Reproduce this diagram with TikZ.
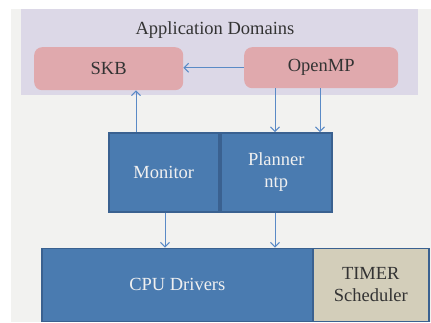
\documentclass[tikz,border=0pt]{standalone}
\usepackage{fontspec}
\setmainfont{Liberation Serif}
\usetikzlibrary{arrows.meta,calc}
\definecolor{bggray}{HTML}{F2F2F0}
\definecolor{appbg}{HTML}{DCD8E7}
\definecolor{pinkbox}{HTML}{E0A9AD}
\definecolor{bluebox}{HTML}{4A7BB0}
\definecolor{blueedge}{HTML}{3A6190}
\definecolor{tanbox}{HTML}{D3CEBA}
\definecolor{arrowc}{HTML}{5A8AC6}
\definecolor{darktext}{HTML}{333333}
\tikzset{
  txt/.style={font=\fontsize{18.5}{22}\selectfont},
  appbox/.style={txt, rectangle, rounded corners=8pt, fill=pinkbox, text=darktext, anchor=north west, inner sep=0pt},
  bluek/.style={txt, rectangle, fill=bluebox, draw=blueedge, line width=1.6pt, text=white!94!black, anchor=north west, inner sep=0pt, align=center},
  tank/.style={txt, rectangle, fill=tanbox, draw=blueedge, line width=1.6pt, text=darktext, anchor=north west, inner sep=0pt, align=center},
  arr/.style={draw=arrowc, line width=1pt, -{Straight Barb[length=4.5pt,width=9pt,line width=1pt]}},
}
\begin{document}
\begin{tikzpicture}[x=1pt,y=-1pt]
  \useasboundingbox (0,0) rectangle (431,322);
  \fill[white] (0,0) rectangle (431,322);
  \fill[bggray] (11,9) rectangle (431,322);
  \fill[appbg] (21,9) rectangle (418,95);
  \node[txt, text=darktext] (title) at (215,30) {Application Domains};
  \node[appbox, minimum width=149pt, minimum height=43pt] (skb) at (34,47) {SKB};
  \node[appbox, minimum width=154pt, minimum height=41pt] (omp) at (244,47) {OpenMP};
  \node[bluek, minimum width=110pt, minimum height=79pt] (mon) at (108,132) {Monitor};
  \node[bluek, minimum width=111pt, minimum height=79pt] (plan) at (220,132) {Planner\\ntp};
  \node[bluek, minimum width=271pt, minimum height=73pt] (cpu) at (41,247.5) {CPU Drivers};
  \node[tank, minimum width=116pt, minimum height=73pt] (timer) at (312,247.5) {TIMER\\Scheduler};
  \coordinate (xa) at (136,0);
  \coordinate (xb) at (275,0);
  \coordinate (xc) at (320,0);
  \coordinate (xd) at (165,0);
  \draw[arr] (omp.west) -- (omp.west -| skb.east);
  \draw[arr] (mon.north -| xa) -- (skb.south -| xa);
  \draw[arr] (omp.south -| xb) -- (plan.north -| xb);
  \draw[arr] (omp.south -| xc) -- (plan.north -| xc);
  \draw[arr] (mon.south -| xd) -- (cpu.north -| xd);
  \draw[arr] (plan.south -| xb) -- (cpu.north -| xb);
\end{tikzpicture}
\end{document}
